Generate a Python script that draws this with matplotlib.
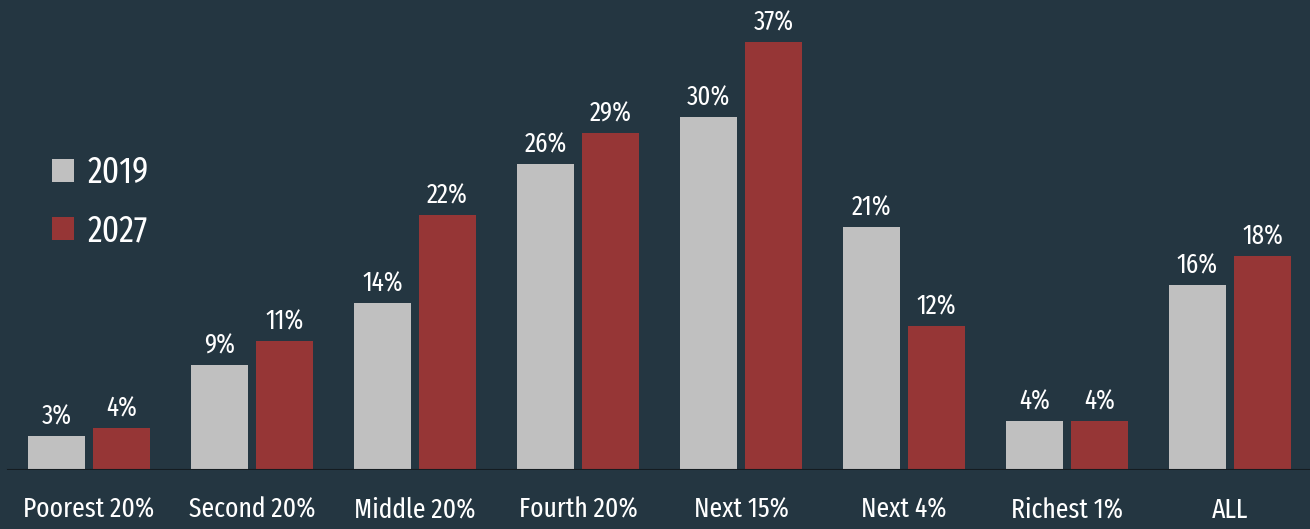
import matplotlib
matplotlib.use("Agg")
import matplotlib.pyplot as plt
import numpy as np
from matplotlib.patches import Patch

categories = ["Poorest 20%", "Second 20%", "Middle 20%", "Fourth 20%",
              "Next 15%", "Next 4%", "Richest 1%", "ALL"]
# bar heights (labels show them rounded)
share_2019 = [2.9, 9.05, 14.4, 26.4, 30.4, 20.9, 4.2, 15.9]
share_2027 = [3.6, 11.1, 22.0, 29.0, 36.9, 12.4, 4.2, 18.4]
series_labels = ["2019", "2027"]

BG = "#243641"
GRAY = "#c0c0c0"
RED = "#963636"

plt.rcParams["font.family"] = ["Fira Sans Extra Condensed", "DejaVu Sans"]

fig = plt.figure(figsize=(13.10, 5.29), dpi=100, facecolor=BG)
ax = fig.add_axes([0, 59 / 529, 1, 1 - 59 / 529])
ax.set_facecolor(BG)

x = np.arange(len(categories))
w = 0.35
b1 = ax.bar(x - 0.2, share_2019, w, color=GRAY)
b2 = ax.bar(x + 0.2, share_2027, w, color=RED)

for bars, vals in ((b1, share_2019), (b2, share_2027)):
    for bar, v in zip(bars, vals):
        ax.text(bar.get_x() + bar.get_width() / 2, v + 1.0, f"{round(v)}%",
                ha="center", va="baseline", color="white", fontsize=19.5)

ax.set_xlim(-0.546, 7.49)
ax.set_ylim(0, 40.5)
ax.axhline(0, xmin=8 / 1310, xmax=1, color="#141c21", lw=1.5, zorder=3)

ax.set_xticks(x)
ax.set_xticklabels(categories, color="white", fontsize=20)
ax.tick_params(axis="x", length=0, pad=19)
ax.set_yticks([])
for s in ax.spines.values():
    s.set_visible(False)

handles = [Patch(facecolor=GRAY), Patch(facecolor=RED)]
ax.legend(handles, series_labels, loc="upper left", bbox_to_anchor=(52 / 1310, 1 - 155 / 470),
          frameon=False, fontsize=26, labelcolor="white", handlelength=0.61,
          handleheight=0.61, handletextpad=0.38, labelspacing=0.62,
          borderpad=0, borderaxespad=0)

fig.savefig("out.png", dpi=100, facecolor=BG)
